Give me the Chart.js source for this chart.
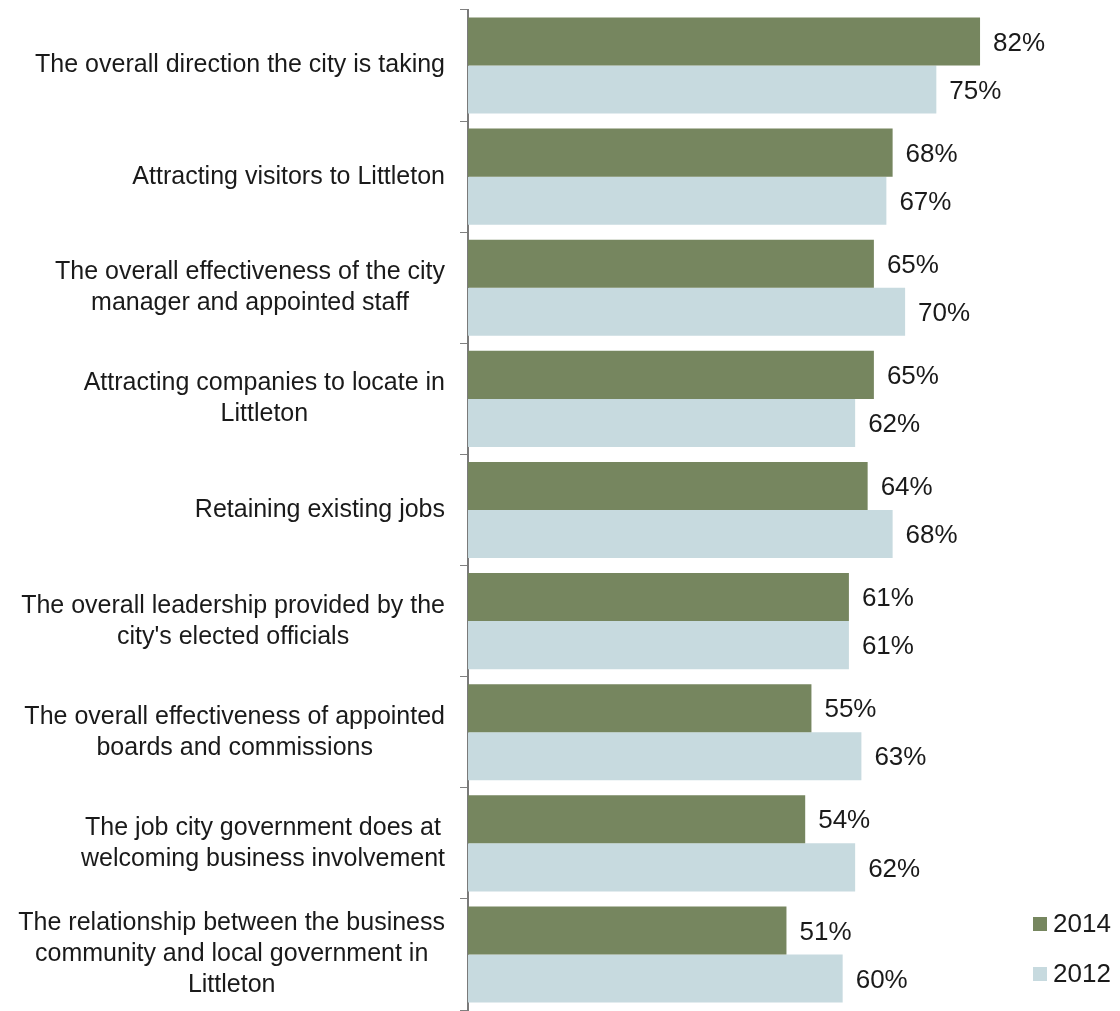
<!DOCTYPE html>
<html>
<head>
<meta charset="utf-8">
<script src="https://cdn.jsdelivr.net/npm/chart.js@4"></script>
<style>
  html, body { margin: 0; padding: 0; background: #ffffff; }
  #wrap { width: 1120px; height: 1011px; position: relative; }
</style>
</head>
<body>
<div id="wrap"><canvas id="ratingChart"></canvas></div>
<script>
// Categorías (cada una dividida en líneas como en el eje)
const categories = [
    ['The overall direction the city is taking'],
    ['Attracting visitors to Littleton'],
    ['The overall effectiveness of the city', 'manager and appointed staff'],
    ['Attracting companies to locate in', 'Littleton'],
    ['Retaining existing jobs'],
    ['The overall leadership provided by the', "city's elected officials"],
    ['The overall effectiveness of appointed', 'boards and commissions'],
    ['The job city government does at', 'welcoming business involvement'],
    ['The relationship between the business', 'community and local government in', 'Littleton']
];
const seriesNames = ['2014', '2012'];
const values2014 = [82, 68, 65, 65, 64, 61, 55, 54, 51];
const values2012 = [75, 67, 70, 62, 68, 61, 63, 62, 60];

const GREEN = '#76865f';
const BLUE = '#c7dadf';
const TEXT = '#1a1a1a';
const CAT_FONT = '25px "Liberation Sans", Arial, sans-serif';
const NUM_FONT = '26px "Liberation Sans", Arial, sans-serif';

// Etiquetas del eje Y: bloque alineado a la derecha, líneas centradas entre sí
const categoryLabels = {
    id: 'categoryLabels',
    afterDraw(chart) {
        const ctx = chart.ctx;
        const yScale = chart.scales.y;
        const right = yScale.right - 23;
        const lineH = 31;
        ctx.save();
        ctx.font = CAT_FONT;
        ctx.fillStyle = TEXT;
        ctx.textAlign = 'center';
        ctx.textBaseline = 'middle';
        categories.forEach((lines, i) => {
            const w = Math.max(...lines.map(l => ctx.measureText(l).width));
            const cx = right - w / 2;
            const cy = yScale.getPixelForTick(i);
            const top = cy - (lines.length - 1) * lineH / 2;
            lines.forEach((l, j) => ctx.fillText(l, cx, top + j * lineH));
        });
        ctx.restore();
    }
};

// Valores en porcentaje al final de cada barra
const valueLabels = {
    id: 'valueLabels',
    afterDatasetsDraw(chart) {
        const ctx = chart.ctx;
        ctx.save();
        ctx.font = NUM_FONT;
        ctx.fillStyle = TEXT;
        ctx.textAlign = 'left';
        ctx.textBaseline = 'middle';
        chart.data.datasets.forEach((ds, di) => {
            chart.getDatasetMeta(di).data.forEach((bar, i) => {
                ctx.fillText(ds.data[i] + '%', bar.x + 13, bar.y + 2);
            });
        });
        ctx.restore();
    }
};

// Leyenda abajo a la derecha
const cornerLegend = {
    id: 'cornerLegend',
    afterDraw(chart) {
        const ctx = chart.ctx;
        const x = 1033;
        const ys = [924, 974];
        ctx.save();
        ctx.font = NUM_FONT;
        ctx.textBaseline = 'middle';
        chart.data.datasets.forEach((ds, i) => {
            ctx.fillStyle = ds.backgroundColor;
            ctx.fillRect(x, ys[i] - 7, 14, 14);
            ctx.fillStyle = TEXT;
            ctx.fillText(ds.label, x + 20, ys[i] + 1);
        });
        ctx.restore();
    }
};

const ctx = document.getElementById('ratingChart').getContext('2d');
const ratingChart = new Chart(ctx, {
    type: 'bar',
    data: {
        labels: categories,
        datasets: [
            { label: seriesNames[0], data: values2014, backgroundColor: GREEN },
            { label: seriesNames[1], data: values2012, backgroundColor: BLUE }
        ]
    },
    options: {
        indexAxis: 'y',
        responsive: true,
        maintainAspectRatio: false,
        animation: false,
        layout: { padding: { left: 460, right: 90, top: 10, bottom: 1 } },
        datasets: {
            bar: { categoryPercentage: 0.865, barPercentage: 1.0 }
        },
        plugins: {
            legend: { display: false },
            tooltip: { enabled: false }
        },
        scales: {
            x: {
                display: false,
                min: 0,
                max: 90
            },
            y: {
                ticks: { display: false },
                grid: {
                    offset: true,
                    drawOnChartArea: false,
                    drawTicks: true,
                    tickLength: 8,
                    color: '#808080',
                    lineWidth: 1
                },
                border: { color: '#7a7a7a', width: 2 }
            }
        }
    },
    plugins: [categoryLabels, valueLabels, cornerLegend]
});
</script>
</body>
</html>
